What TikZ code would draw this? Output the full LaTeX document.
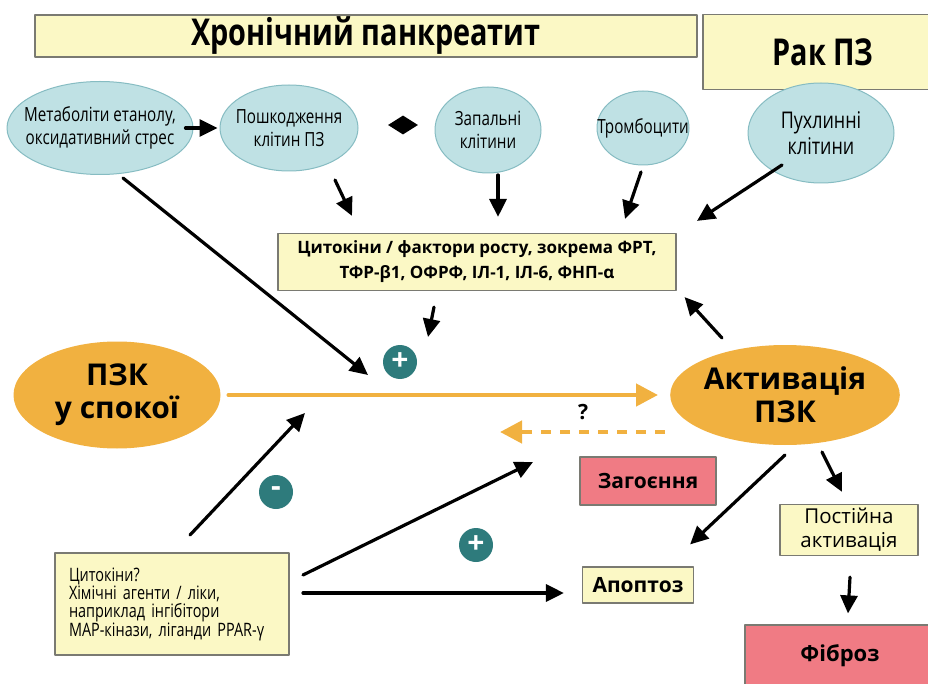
\documentclass[tikz,border=0pt]{standalone}
\usepackage{fontspec}
\setmainfont{Open Sans}
\newfontfamily\narrowfont[FakeStretch=0.78]{Open Sans}
\usetikzlibrary{shapes, calc, arrows.meta, positioning}
\definecolor{boxyellow}{HTML}{FBF8C5}
\definecolor{boxline}{HTML}{7A7A72}
\definecolor{cellblue}{HTML}{BFE1E4}
\definecolor{cellline}{HTML}{86BCC2}
\definecolor{pscorange}{HTML}{F1B140}
\definecolor{signteal}{HTML}{2E7B7C}
\definecolor{fibpink}{HTML}{F07B84}
\tikzset{
  ybox/.style={draw=boxline, fill=boxyellow, line width=1.2pt, inner sep=2pt},
  pbox/.style={draw=boxline, fill=fibpink, line width=1.2pt, inner sep=2pt, font=\bfseries\fontsize{21}{23}\selectfont},
  cell/.style={ellipse, draw=cellline, fill=cellblue, line width=1pt, inner sep=0pt},
  celltext/.style={align=center, font=\narrowfont\fontsize{19.5}{23}\selectfont},
  psc/.style={ellipse, fill=pscorange, align=center, inner sep=0pt, font=\bfseries\fontsize{30}{33}\selectfont},
  sign/.style={circle, fill=signteal, text=white, minimum size=34pt, inner sep=0pt, font=\bfseries\fontsize{30}{30}\selectfont},
  arr/.style={-{Triangle[length=18pt,width=17pt]}, line width=3.2pt},
  oarr/.style={-{Triangle[length=22pt,width=22pt]}, draw=pscorange, line width=4.5pt},
}
\begin{document}
\begin{tikzpicture}[line cap=round,line join=round,x=1pt,y=-1pt]
\useasboundingbox (0,0) rectangle (928,684);
% headings
\node[ybox, minimum width=662pt, minimum height=42pt, font=\bfseries\narrowfont\fontsize{37}{37}\selectfont] (cp) at (366,36) {Хронічний панкреатит};
\node[ybox, minimum width=240pt, minimum height=75pt, font=\bfseries\narrowfont\fontsize{37}{37}\selectfont] (rak) at (823,52) {Рак ПЗ};
% cells
\node[cell, minimum width=186pt, minimum height=93pt, label={[celltext]center:{Метаболіти етанолу,\\оксидативний стрес}}] (met) at (100,128) {};
\node[cell, minimum width=138pt, minimum height=86pt, label={[celltext]center:{Пошкодження\\клітин ПЗ}}] (posh) at (289,128) {};
\node[cell, minimum width=106pt, minimum height=86pt, label={[celltext]center:{Запальні\\клітини}}] (zap) at (488,130) {};
\node[cell, minimum width=92pt, minimum height=74pt, label={[celltext]center:{Тромбоцити}}] (trom) at (643,128) {};
\node[cell, minimum width=146pt, minimum height=100pt, label={[celltext, font=\narrowfont\fontsize{23}{26}\selectfont]center:{Пухлинні\\клітини}}] (puh) at (821,133) {};
\node[diamond, fill=black, minimum width=30pt, minimum height=19pt, inner sep=0pt] (link) at (403,125) {};
% mediators
\node[ybox, minimum width=398pt, minimum height=57pt, align=center, font=\bfseries\fontsize{17}{25}\selectfont] (cyt) at (477,262) {Цитокіни / фактори росту, зокрема ФРТ,\\ТФР-β1, ОФРФ, ІЛ-1, ІЛ-6, ФНП-α};
% stellate cells
\node[psc, minimum width=207pt, minimum height=107pt] (rest) at (117,395) {ПЗК\\у спокої};
\node[psc, minimum width=210pt, minimum height=100pt] (act) at (785,395) {Активація\\ПЗК};
\node[sign] (plus1) at (400,362) {+};
\node[sign] (minus) at (276,492) {-};
\node[sign] (plus2) at (476,545) {+};
% outcomes
\node[pbox, minimum width=136pt, minimum height=48pt] (heal) at (648,481) {Загоєння};
\node[ybox, minimum width=138pt, minimum height=51pt, align=center, font=\fontsize{20.5}{24}\selectfont] (pers) at (849,530) {Постійна\\активація};
\node[ybox, minimum width=111pt, minimum height=36pt, font=\bfseries\fontsize{21}{22}\selectfont] (apo) at (638,585) {Апоптоз};
\node[pbox, minimum width=190pt, minimum height=62pt, font=\bfseries\fontsize{22}{23}\selectfont] (fib) at (840,656) {Фіброз};
\node[ybox, minimum width=234pt, minimum height=102pt, text width=206pt, inner xsep=14pt, align=left, font=\narrowfont\fontsize{18.5}{18}\selectfont] (drug) at (172,604) {Цитокіни?\\Хімічні агенти / ліки,\\наприклад інгібітори\\MAP-кінази, ліганди PPAR-γ};
\coordinate (into) at (368,375);
\coordinate (back) at (500,432);
\coordinate (inhib) at (305,413);
\coordinate (promo) at (533,462);
\node[font=\bfseries\fontsize{21}{21}\selectfont] (q) at (583,412) {?};
% arrows
\draw[arr] ([xshift=-8pt]met.east) -- ([xshift=-2pt]posh.west);
\draw[arr] ([shift={(46,52)}]posh.center) -- ([shift={(-125,-17)}]cyt.north);
\draw[arr] ([shift={(10,45)}]zap.center) -- ([shift={(21,-16)}]cyt.north);
\draw[arr] ([shift={(-2,44)}]trom.center) -- ([shift={(148,-14)}]cyt.north);
\draw[arr] ([shift={(-39,32)}]puh.center) -- ([shift={(220,-12)}]cyt.north);
\draw[arr] ([shift={(23,50)}]met.center) -- (into);
\draw[arr] ([shift={(-43,16)}]cyt.south) -- ([shift={(28,-25)}]plus1.center);
\draw[arr] ([shift={(-63,-57)}]act.center) -- ([shift={(8,6)}]cyt.south east);
\draw[oarr, shorten <=8pt, shorten >=12pt] (rest.east) -- (act.west);
\draw[oarr, line cap=butt, dash pattern=on 10pt off 9pt] ([shift={(-120,37)}]act.center) -- (back);
\draw[arr] ([shift={(18,-69)}]drug.center) -- (inhib);
\draw[arr] ([shift={(131,-29)}]drug.center) -- (promo);
\draw[arr] ([shift={(131,-11)}]drug.center) -- ([shift={(-18,8)}]apo.west);
\draw[arr] ([shift={(0,60)}]act.center) -- ([shift={(-4,-22)}]apo.north east);
\draw[arr] ([shift={(37,57)}]act.center) -- ([shift={(-7,-12)}]pers.north);
\draw[arr] ([shift={(1,21)}]pers.south) -- ([shift={(8,-11)}]fib.north);
\end{tikzpicture}
\end{document}
